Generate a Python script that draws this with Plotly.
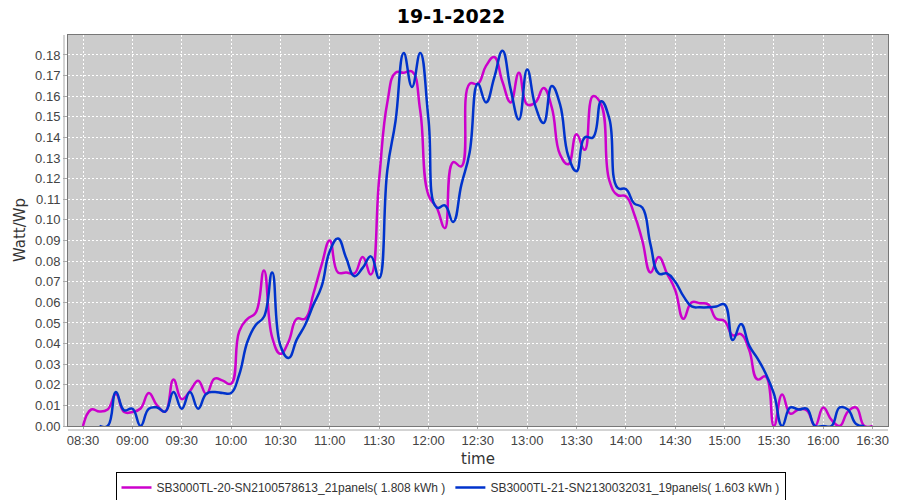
import plotly.graph_objects as go

DATE = "2022-01-19"

# 5-minute time stamps 08:30 .. 16:30
times = []
for h in range(8, 17):
    for mnt in range(0, 60, 5):
        hm = f"{h:02d}:{mnt:02d}"
        if "08:30" <= hm <= "16:30":
            times.append(hm)

series_names = [
    "SB3000TL-20-SN2100578613_21panels( 1.808 kWh )",
    "SB3000TL-21-SN2130032031_19panels( 1.603 kWh )",
]

inv20_watt_per_wp = [
    0.000, 0.008, 0.007, 0.008, 0.0155, 0.0068,    # 08:30-08:55
    0.0068, 0.0085, 0.016, 0.010, 0.007, 0.0225,   # 09:00-09:25
    0.013, 0.017, 0.022, 0.0155, 0.023, 0.022,     # 09:30-09:55
    0.0205, 0.046, 0.052, 0.055, 0.0755, 0.043,    # 10:00-10:25
    0.035, 0.041, 0.052, 0.052, 0.064, 0.078,      # 10:30-10:55
    0.090, 0.0745, 0.0745, 0.074, 0.082, 0.0735,   # 11:00-11:25
    0.1195, 0.157, 0.1714, 0.1714, 0.172, 0.153,   # 11:30-11:55
    0.112, 0.106, 0.096, 0.128, 0.126, 0.166,      # 12:00-12:25
    0.166, 0.1747, 0.179, 0.167, 0.157, 0.1714,    # 12:30-12:55
    0.156, 0.157, 0.164, 0.1545, 0.1317, 0.127,    # 13:00-13:25
    0.1415, 0.134, 0.160, 0.156, 0.119, 0.112,     # 13:30-13:55
    0.1115, 0.103, 0.090, 0.0745, 0.082, 0.074,    # 14:00-14:25
    0.066, 0.052, 0.060, 0.0596, 0.059, 0.052,     # 14:30-14:55
    0.051, 0.044, 0.0446, 0.0368, 0.0226, 0.024,   # 15:00-15:25
    0.000, 0.0153, 0.006, 0.008, 0.0076, 0.000,    # 15:30-15:55
    0.009, 0.003, 0.000, 0.007, 0.009, 0.000,      # 16:00-16:25
    0.000,                                         # 16:30
]

inv21_watt_per_wp = [
    None, None, 0.000, 0.000, 0.0165, 0.0076,      # 08:30-08:55
    0.0084, 0.000, 0.0084, 0.009, 0.007, 0.0165,   # 09:00-09:25
    0.0084, 0.0165, 0.0084, 0.0157, 0.0165, 0.016, # 09:30-09:55
    0.016, 0.025, 0.041, 0.049, 0.053, 0.0745,     # 10:00-10:25
    0.039, 0.033, 0.042, 0.049, 0.0587, 0.0676,    # 10:30-10:55
    0.0848, 0.091, 0.0815, 0.0727, 0.0767, 0.0823, # 11:00-11:25
    0.0718, 0.124, 0.148, 0.181, 0.1645, 0.181,    # 11:30-11:55
    0.149, 0.106, 0.107, 0.099, 0.117, 0.1326,     # 12:00-12:25
    0.166, 0.157, 0.169, 0.182, 0.1633, 0.1487,    # 12:30-12:55
    0.173, 0.1552, 0.147, 0.165, 0.156, 0.131,     # 13:00-13:25
    0.1236, 0.140, 0.140, 0.1576, 0.149, 0.1155,   # 13:30-13:55
    0.115, 0.108, 0.106, 0.088, 0.074, 0.074,      # 14:00-14:25
    0.070, 0.063, 0.058, 0.0576, 0.0576, 0.058,    # 14:30-14:55
    0.059, 0.0417, 0.0495, 0.039, 0.0328, 0.0255,  # 15:00-15:25
    0.0157, 0.000, 0.009, 0.008, 0.0084, 0.000,    # 15:30-15:55
    0.000, 0.000, 0.009, 0.008, 0.001, 0.000,      # 16:00-16:25
    None,                                          # 16:30
]

colors = ["#CC00CC", "#0033CC"]

x = [f"{DATE} {t}" for t in times]

fig = go.Figure()
for name, vals, col in zip(series_names, [inv20_watt_per_wp, inv21_watt_per_wp], colors):
    fig.add_trace(go.Scatter(
        x=x, y=vals, name=name, mode="lines",
        line=dict(color=col, width=2.5, shape="spline", smoothing=1.3),
        connectgaps=False,
    ))

tick_font = dict(family="Liberation Sans", size=13, color="#444444")
title_font = dict(family="DejaVu Sans", size=15, color="#333333")

# The page body adds an 8px offset, so the figure is 892x492 with margins reduced by 8.
W, H = 892, 492
ML, MR, MT, MB = 60, 12, 27, 74
PW, PH = W - ML - MR, H - MT - MB

fig.update_layout(
    width=W, height=H,
    margin=dict(l=ML, r=MR, t=MT, b=MB, autoexpand=False),
    paper_bgcolor="white",
    plot_bgcolor="#CCCCCC",
    title=dict(text="<b>19-1-2022</b>", x=443 / W, xref="container", xanchor="center",
               y=1 - 8.5 / H, yref="container", yanchor="middle",
               font=dict(family="DejaVu Sans", size=19, color="black")),
    legend=dict(orientation="h", x=(442.5 - ML) / PW, xanchor="center",
                y=-46 / PH, yanchor="top",
                bordercolor="black", borderwidth=1, bgcolor="white",
                font=dict(family="Liberation Sans", size=12, color="#333333"),
                itemwidth=30, tracegroupgap=0),
    showlegend=True,
    annotations=[
        dict(text="time", xref="paper", yref="paper", x=0.5, y=-33 / PH,
             xanchor="center", yanchor="middle", showarrow=False, font=title_font),
        dict(text="Watt/Wp", xref="paper", yref="paper", x=-48 / PW, y=0.501,
             xanchor="center", yanchor="middle", textangle=-90, showarrow=False,
             font=title_font),
    ],
    shapes=[
        dict(type="line", xref="paper", yref="paper", x0=-4 / PW, x1=-4 / PW, y0=0, y1=1,
             line=dict(color="#A8A8A8", width=1), layer="below"),
        dict(type="line", xref="paper", yref="paper", x0=0, x1=1, y0=-4 / PH, y1=-4 / PH,
             line=dict(color="#A8A8A8", width=1), layer="below"),
    ],
)

fig.update_xaxes(
    type="date", automargin=False,
    range=[f"{DATE} 08:20:53", f"{DATE} 16:39:22"],
    tick0=f"{DATE} 08:30", dtick=1800000, tickformat="%H:%M",
    showgrid=True, gridcolor="white", gridwidth=1, griddash="2px,2px",
    zeroline=False,
    showline=True, linecolor="#777777", linewidth=1, mirror=True,
    ticks="outside", ticklen=2, tickcolor="#AAAAAA",
    tickfont=tick_font,
)
fig.update_yaxes(
    automargin=False,
    range=[0, 0.1897], dtick=0.01, tickformat=".2f",
    showgrid=True, gridcolor="white", gridwidth=1, griddash="2px,2px",
    zeroline=False,
    showline=True, linecolor="#777777", linewidth=1, mirror=True,
    ticks="outside", ticklen=4, tickcolor="#AAAAAA",
    tickfont=tick_font,
)

fig.write_html("out.html")
